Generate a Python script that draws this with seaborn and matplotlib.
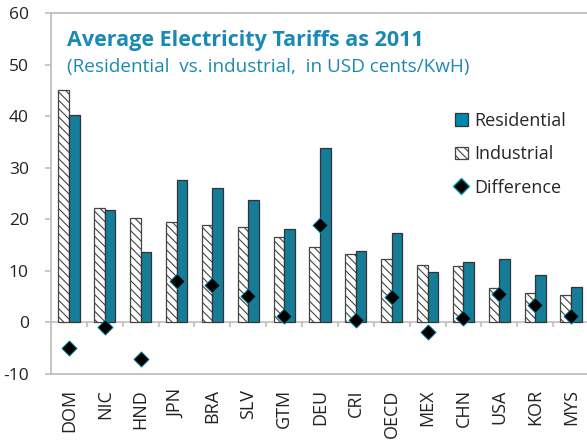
import numpy as np
import pandas as pd
import matplotlib
matplotlib.use("Agg")
import matplotlib.pyplot as plt
import seaborn as sns
from matplotlib.patches import Patch
from matplotlib.lines import Line2D

countries = ["DOM", "NIC", "HND", "JPN", "BRA", "SLV", "GTM", "DEU", "CRI",
             "OECD", "MEX", "CHN", "USA", "KOR", "MYS"]
industrial = [45.0, 22.2, 20.3, 19.4, 18.8, 18.6, 16.6, 14.7, 13.2, 12.3, 11.2, 10.9, 6.6, 5.7, 5.4]
residential = [40.2, 21.8, 13.6, 27.6, 26.0, 23.8, 18.1, 33.8, 13.9, 17.4, 9.8, 11.8, 12.3, 9.2, 6.9]
difference = [-5.0, -0.8, -7.0, 8.0, 7.2, 5.1, 1.3, 18.9, 0.4, 4.9, -1.8, 0.8, 5.5, 3.3, 1.3]
yticks = [-10, 0, 10, 20, 30, 40, 50, 60]

TEAL = "#008AAE"
TITLE = "#1A8AB5"
FRAME = "#BFBFBF"

sns.set_style("white")
plt.rcParams["font.family"] = ["Open Sans", "DejaVu Sans"]
plt.rcParams["hatch.linewidth"] = 0.8

df = pd.DataFrame({
    "country": countries * 2,
    "series": ["Industrial"] * len(countries) + ["Residential"] * len(countries),
    "value": industrial + residential,
})
dfd = pd.DataFrame({"country": countries, "diff": difference})

fig = plt.figure(figsize=(5.87, 4.42), dpi=100)
ax = fig.add_axes([51 / 587, 68 / 442, 538 / 587, 361 / 442])

sns.barplot(data=df, x="country", y="value", hue="series",
            hue_order=["Industrial", "Residential"],
            palette={"Industrial": "white", "Residential": TEAL},
            width=0.59, gap=0, dodge=True, errorbar=None,
            edgecolor="#333333", linewidth=0.9, legend=False, ax=ax)
n = len(countries)
for i, p in enumerate(ax.patches[:n]):
    p.set_hatch("\\\\\\\\")
    p.set_edgecolor("#444444")

ax.axhline(0, color=FRAME, lw=1.2, zorder=0.5)
ax.vlines(np.arange(n - 1) + 0.5, -0.9, 0, color=FRAME, lw=1.2, zorder=0.5)

sns.scatterplot(data=dfd, x="country", y="diff", marker="D", s=60,
                color="black", edgecolor=TEAL, linewidth=0.6, zorder=5, ax=ax)

ax.set_xlim(-0.5, n - 0.5)
ax.set_ylim(-10, 60)
ax.set_yticks(yticks)
ax.set_yticklabels([str(t) for t in yticks], fontsize=12.5, color="#222222")
ax.tick_params(axis="y", length=4, color=FRAME, width=1.2, pad=12, left=True)
ax.tick_params(axis="x", length=0, pad=11)
ax.set_xticks(range(n))
ax.set_xticklabels(countries, rotation=90, fontsize=13, color="#222222")
ax.set_xlabel("")
ax.set_ylabel("")
for s in ["left", "top", "bottom"]:
    ax.spines[s].set_color(FRAME)
    ax.spines[s].set_linewidth(1.3)
ax.spines["right"].set_visible(False)

ax.text(0.0297, 0.9086, "Average Electricity Tariffs as 2011", transform=ax.transAxes,
        fontsize=15.5, fontweight="bold", color=TITLE, va="baseline")
ax.text(0.0297, 0.8366, "(Residential  vs. industrial,  in USD cents/KwH)", transform=ax.transAxes,
        fontsize=13.6, color=TITLE, va="baseline")

handles = [
    Patch(facecolor=TEAL, edgecolor="#333333", linewidth=0.9),
    Patch(facecolor="white", edgecolor="#444444", hatch="\\\\\\\\", linewidth=0.9),
    Line2D([], [], marker="D", color="black", markeredgecolor=TEAL, markersize=8, linestyle="none"),
]
ax.legend(handles, ["Residential", "Industrial", "Difference"], frameon=False,
          loc="upper left", bbox_to_anchor=(0.751, 0.726), fontsize=13,
          handlelength=0.7, handleheight=0.7, handletextpad=0.35, labelspacing=0.85,
          borderaxespad=0, borderpad=0)

fig.savefig("out.png", dpi=100)
